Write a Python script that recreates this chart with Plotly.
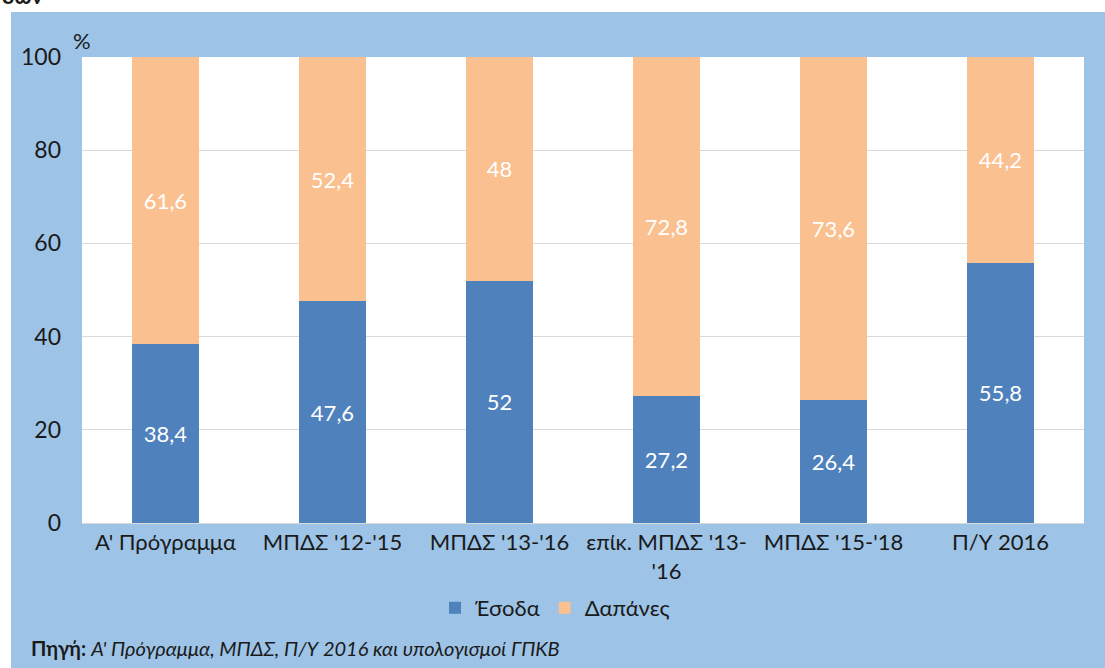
import plotly.graph_objects as go

categories = ["Α' Πρόγραμμα", "ΜΠΔΣ '12-'15", "ΜΠΔΣ '13-'16", "επίκ. ΜΠΔΣ '13-<br>'16", "ΜΠΔΣ '15-'18", "Π/Υ 2016"]
esoda = [38.4, 47.6, 52, 27.2, 26.4, 55.8]
dapanes = [61.6, 52.4, 48, 72.8, 73.6, 44.2]
y_ticks = [0, 20, 40, 60, 80, 100]

W, H = 1105, 668
L, R, T, B = 82, 1084, 57, 523
FONT = "Lato"

def px(x):
    return (x - L) / (R - L)

def py(y):
    return (B - y) / (B - T)

def fmt(v):
    return f"{v:g}".replace(".", ",")

fig = go.Figure()
fig.add_trace(go.Bar(
    x=categories, y=esoda, name="Έσοδα", marker=dict(color="#4F81BD", line=dict(width=0)),
    text=[fmt(v) for v in esoda], textposition="inside", insidetextanchor="middle",
    textfont=dict(color="white", size=22, family=FONT), hoverinfo="skip"))
fig.add_trace(go.Bar(
    x=categories, y=dapanes, name="Δαπάνες", marker=dict(color="#FAC090", line=dict(width=0)),
    text=[fmt(v) for v in dapanes], textposition="inside", insidetextanchor="middle",
    textfont=dict(color="white", size=22, family=FONT), hoverinfo="skip"))

fig.update_layout(
    width=W, height=H, barmode="stack", bargap=0.6,
    margin=dict(l=L, r=W - R, t=T, b=H - B, pad=0),
    paper_bgcolor="white", plot_bgcolor="white",
    font=dict(family=FONT, size=22, color="#1a1a1a"),
    showlegend=True,
    legend=dict(orientation="h", x=px(555), xanchor="center", y=py(608), yanchor="middle",
                font=dict(size=22, family=FONT), bgcolor="rgba(0,0,0,0)", itemwidth=30,
                traceorder="normal"),
    xaxis=dict(showgrid=False, showline=True, linecolor="#D9D9D9", linewidth=1,
               tickfont=dict(size=22, family=FONT), ticks="", fixedrange=True),
    yaxis=dict(range=[0, 100], tickvals=y_ticks, showgrid=True, gridcolor="#D9D9D9",
               gridwidth=1, zeroline=False, tickfont=dict(size=23, family=FONT),
               ticklabelstandoff=20, ticks="", fixedrange=True),
    shapes=[
        dict(type="rect", xref="paper", yref="paper", layer="below",
             x0=px(11), x1=px(W + 5), y0=py(H + 5), y1=py(12),
             fillcolor="#9DC3E6", line=dict(width=0)),
        dict(type="rect", xref="paper", yref="paper", layer="below",
             x0=0, x1=1, y0=0, y1=1, fillcolor="white", line=dict(width=0)),
    ],
    annotations=[
        dict(text="%", xref="paper", yref="paper", x=px(82), y=py(40), xanchor="center",
             yanchor="middle", showarrow=False, font=dict(size=22, family=FONT)),
        dict(text="<b>Πηγή:</b> <i>Α' Πρόγραμμα, ΜΠΔΣ, Π/Υ 2016 και υπολογισμοί ΓΠΚΒ</i>",
             xref="paper", yref="paper", x=px(29), y=py(648), xanchor="left",
             yanchor="middle", showarrow=False, font=dict(size=20, family=FONT)),
        dict(text="<b>δων</b>", xref="paper", yref="paper", x=px(0), y=py(-4), xanchor="left",
             yanchor="middle", showarrow=False, font=dict(size=22, family=FONT)),
    ],
)

fig.write_html("out.html", config={"displayModeBar": False},
               post_script="document.body.style.margin='0px';document.body.style.padding='0px';")
